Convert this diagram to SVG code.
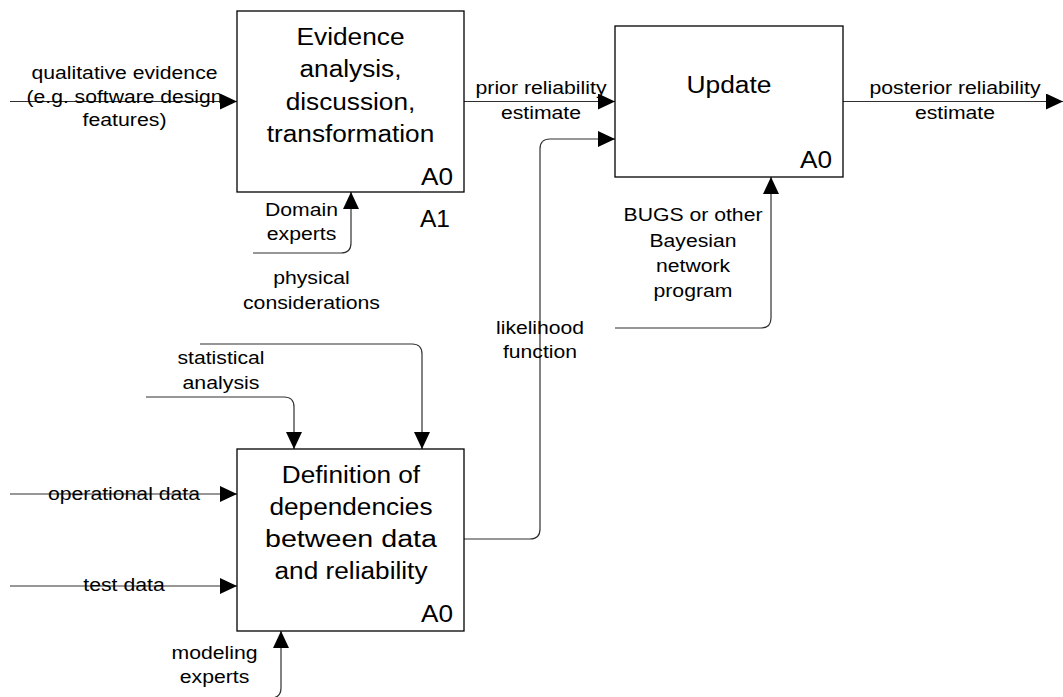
<svg xmlns="http://www.w3.org/2000/svg" width="1063" height="697" viewBox="0 0 1063 697">
<style>
.box{fill:#fff;stroke:#000;stroke-width:1.3}
.ln{fill:none;stroke:#303030;stroke-width:1.2}
.t{font-family:"Liberation Sans",Arial,sans-serif;font-size:17.5px;fill:#000;text-anchor:middle}
.b{font-family:"Liberation Sans",Arial,sans-serif;font-size:23.5px;fill:#000;text-anchor:middle}
.e{text-anchor:end}
</style>
<defs>
<marker id="ah" markerUnits="userSpaceOnUse" markerWidth="17" markerHeight="16" refX="17" refY="8" orient="auto" viewBox="0 0 17 16">
<path d="M0,0 L17,8 L0,16 z" fill="#000"/>
</marker>
</defs>
<rect width="1063" height="697" fill="#fff"/>
<g id="connectors">
<path class="ln" d="M10,101.5 H237" marker-end="url(#ah)"/>
<path class="ln" d="M464,101.5 H615" marker-end="url(#ah)"/>
<path class="ln" d="M843,101.5 H1063" marker-end="url(#ah)"/>
<path class="ln" d="M253,253 H341 Q351,253 351,243 V192" marker-end="url(#ah)"/>
<path class="ln" d="M464,539 H530 Q540,539 540,529 V149 Q540,139 550,139 H615" marker-end="url(#ah)"/>
<path class="ln" d="M615,328 H761 Q771,328 771,318 V177" marker-end="url(#ah)"/>
<path class="ln" d="M200,344 H412 Q422,344 422,354 V449" marker-end="url(#ah)"/>
<path class="ln" d="M146,397 H284 Q294,397 294,407 V449" marker-end="url(#ah)"/>
<path class="ln" d="M10,494 H237" marker-end="url(#ah)"/>
<path class="ln" d="M10,586 H237" marker-end="url(#ah)"/>
<path class="ln" d="M266,698 H271 Q281,698 281,688 V631" marker-end="url(#ah)"/>
</g>
<g id="labels">
<text class="t" x="124.5" y="78.5" textLength="186" lengthAdjust="spacingAndGlyphs">qualitative evidence</text>
<text class="t" x="124.5" y="102.5" textLength="196" lengthAdjust="spacingAndGlyphs">(e.g. software design</text>
<text class="t" x="124.5" y="126" textLength="84" lengthAdjust="spacingAndGlyphs">features)</text>
<text class="t" x="541" y="93.5" textLength="131" lengthAdjust="spacingAndGlyphs">prior reliability</text>
<text class="t" x="541" y="119" textLength="80" lengthAdjust="spacingAndGlyphs">estimate</text>
<text class="t" x="955" y="93.5" textLength="171" lengthAdjust="spacingAndGlyphs">posterior reliability</text>
<text class="t" x="955" y="119" textLength="80" lengthAdjust="spacingAndGlyphs">estimate</text>
<text class="t" x="301.5" y="215.5" textLength="73" lengthAdjust="spacingAndGlyphs">Domain</text>
<text class="t" x="301.5" y="240" textLength="69.5" lengthAdjust="spacingAndGlyphs">experts</text>
<text class="t" x="311.5" y="283.5" textLength="76.6" lengthAdjust="spacingAndGlyphs">physical</text>
<text class="t" x="311.5" y="308.5" textLength="137" lengthAdjust="spacingAndGlyphs">considerations</text>
<text class="t" x="693" y="221" textLength="139" lengthAdjust="spacingAndGlyphs">BUGS or other</text>
<text class="t" x="693" y="246.5" textLength="87" lengthAdjust="spacingAndGlyphs">Bayesian</text>
<text class="t" x="693" y="272" textLength="74" lengthAdjust="spacingAndGlyphs">network</text>
<text class="t" x="693" y="297" textLength="79" lengthAdjust="spacingAndGlyphs">program</text>
<text class="t" x="540" y="333.5" textLength="88" lengthAdjust="spacingAndGlyphs">likelihood</text>
<text class="t" x="540" y="358" textLength="74" lengthAdjust="spacingAndGlyphs">function</text>
<text class="t" x="221" y="363.5" textLength="87" lengthAdjust="spacingAndGlyphs">statistical</text>
<text class="t" x="221" y="388.5" textLength="77" lengthAdjust="spacingAndGlyphs">analysis</text>
<text class="t" x="124" y="499.5" textLength="152" lengthAdjust="spacingAndGlyphs">operational data</text>
<text class="t" x="124" y="591" textLength="81.5" lengthAdjust="spacingAndGlyphs">test data</text>
<text class="t" x="214.5" y="658.5" textLength="86" lengthAdjust="spacingAndGlyphs">modeling</text>
<text class="t" x="214.5" y="683" textLength="69.5" lengthAdjust="spacingAndGlyphs">experts</text>
</g>
<g id="node-evidence">
<rect class="box" x="237" y="11" width="227" height="181"/>
<text class="b" x="350.5" y="45" textLength="108" lengthAdjust="spacingAndGlyphs">Evidence</text>
<text class="b" x="350.5" y="77.3" textLength="102" lengthAdjust="spacingAndGlyphs">analysis,</text>
<text class="b" x="350.5" y="109.5" textLength="129.6" lengthAdjust="spacingAndGlyphs">discussion,</text>
<text class="b" x="350.5" y="141.7" textLength="167.5" lengthAdjust="spacingAndGlyphs">transformation</text>
<text class="b e" x="453" y="185" textLength="32" lengthAdjust="spacingAndGlyphs">A0</text>
<text class="b e" x="450" y="227" textLength="30" lengthAdjust="spacingAndGlyphs">A1</text>
</g>
<g id="node-update">
<rect class="box" x="615" y="26" width="228" height="151"/>
<text class="b" x="729" y="93" textLength="85" lengthAdjust="spacingAndGlyphs">Update</text>
<text class="b e" x="832" y="168" textLength="32" lengthAdjust="spacingAndGlyphs">A0</text>
</g>
<g id="node-definition">
<rect class="box" x="237" y="449" width="227" height="182"/>
<text class="b" x="351" y="483" textLength="138.3" lengthAdjust="spacingAndGlyphs">Definition of</text>
<text class="b" x="351" y="515" textLength="163" lengthAdjust="spacingAndGlyphs">dependencies</text>
<text class="b" x="351" y="547" textLength="172" lengthAdjust="spacingAndGlyphs">between data</text>
<text class="b" x="351" y="579" textLength="153" lengthAdjust="spacingAndGlyphs">and reliability</text>
<text class="b e" x="453" y="621.5" textLength="32" lengthAdjust="spacingAndGlyphs">A0</text>
</g>
</svg>
